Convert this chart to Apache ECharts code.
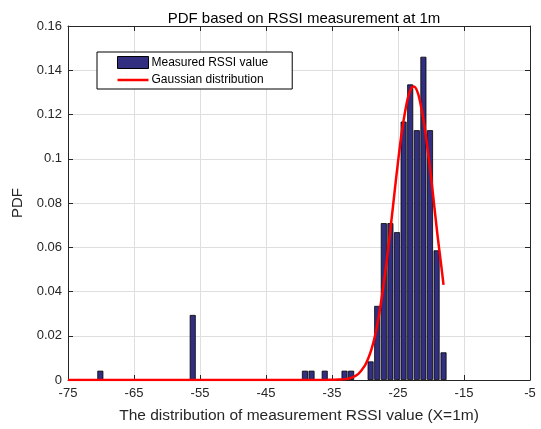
<!DOCTYPE html>
<html>
<head>
<meta charset="utf-8">
<script src="https://cdn.jsdelivr.net/npm/echarts@6/dist/echarts.min.js"></script>
<style>html,body{margin:0;padding:0;background:#fff;}#c{width:541px;height:429px;}</style>
</head>
<body>
<div id="c"></div>
<script>
// Histogram bins (RSSI, dBm) and normalized PDF heights
var binCenters = [-70.1, -56.1, -39.1, -38.1, -36.1, -33.1, -32.1,
  -29.15, -28.15, -27.15, -26.15, -25.15, -24.15, -23.15, -22.15, -21.15, -20.15, -19.15, -18.1];
var pdfValues = [0.0042, 0.0294, 0.0042, 0.0042, 0.0042, 0.0042, 0.0042,
  0.0084, 0.0335, 0.0709, 0.0709, 0.0668, 0.1168, 0.1336, 0.1129, 0.1461, 0.1129, 0.0586, 0.0125];
// Gaussian fit curve
var gaussX = [-75, -60, -45, -38, -36, -35, -34, -33, -32, -31, -30, -29.5, -29, -28.5, -28, -27.5, -27, -26.5, -26, -25.5, -25, -24.5, -24, -23.5, -23, -22.6, -22, -21.5, -21, -20.5, -20, -19.5, -19, -18.5, -18.1];
var gaussY = [0, 0, 0, 0, 0, 0.0001, 0.0002, 0.0004, 0.0011, 0.0028, 0.0066, 0.0098, 0.0141, 0.0198, 0.0272, 0.0365, 0.0470, 0.0590, 0.0720, 0.0855, 0.0985, 0.1105, 0.1200, 0.1275, 0.1318, 0.1326, 0.1298, 0.1235, 0.1150, 0.1040, 0.0920, 0.0785, 0.0650, 0.0530, 0.0430];
var xTicks = [-75, -65, -55, -45, -35, -25, -15, -5];
var titleText = 'PDF based on RSSI measurement at 1m';
var xName = 'The distribution of measurement RSSI value (X=1m)';
var yName = 'PDF';
var barName = 'Measured RSSI value';
var lineName = 'Gaussian distribution';

var barData = binCenters.map(function (x, i) { return [x, pdfValues[i]]; });
var lineData = gaussX.map(function (x, i) { return [x, gaussY[i]]; });

var axisColor = '#262626';
var font = 'Liberation Sans, Arial, Helvetica, sans-serif';

var chart = echarts.init(document.getElementById('c'), null, { renderer: 'canvas' });
chart.setOption({
  animation: false,
  backgroundColor: '#fff',
  textStyle: { fontFamily: font },
  title: {
    text: titleText,
    left: 299, top: 6, textAlign: 'center',
    textStyle: { fontSize: 15, fontWeight: 'normal', color: '#000', fontFamily: font }
  },
  legend: {
    orient: 'vertical',
    left: 97, top: 52,
    padding: [4, 24, 3, 20],
    itemGap: 5,
    itemWidth: 31, itemHeight: 12,
    borderColor: '#000', borderWidth: 1,
    backgroundColor: '#fff',
    textStyle: { fontSize: 12, color: '#000', fontFamily: font, padding: [0, 0, 0, -2] },
    data: [
      { name: barName, icon: 'rect', itemStyle: { color: '#332f80', borderColor: '#000', borderWidth: 1 } },
      { name: lineName, icon: 'path://M0,0H62V5H0Z', itemStyle: { color: '#ff0000', borderWidth: 0 } }
    ]
  },
  grid: { left: 68, right: 11, top: 26, bottom: 48, containLabel: false },
  xAxis: [{
    type: 'value', min: -75, max: -5,
    name: xName, nameLocation: 'middle', nameGap: 28,
    nameTextStyle: { fontSize: 15.5, color: axisColor, fontFamily: font },
    axisLine: { show: true, onZero: false, lineStyle: { color: axisColor, width: 1 } },
    axisTick: { show: true, inside: true, length: 5, customValues: xTicks, lineStyle: { color: axisColor } },
    axisLabel: { customValues: xTicks, fontSize: 13, color: axisColor, margin: 7, fontFamily: font },
    splitLine: { show: true, lineStyle: { color: '#dedede', width: 1 } }
  }, {
    type: 'value', min: -75, max: -5, position: 'top',
    axisLine: { show: true, onZero: false, lineStyle: { color: axisColor, width: 1 } },
    axisTick: { show: true, inside: true, length: 5, customValues: xTicks, lineStyle: { color: axisColor } },
    axisLabel: { show: false },
    splitLine: { show: false }
  }],
  yAxis: [{
    type: 'value', min: 0, max: 0.16, interval: 0.02,
    name: yName, nameLocation: 'middle', nameGap: 38, nameRotate: 90,
    nameTextStyle: { fontSize: 15, color: axisColor, fontFamily: font },
    axisLine: { show: true, onZero: false, lineStyle: { color: axisColor, width: 1 } },
    axisTick: { show: true, inside: true, length: 5, lineStyle: { color: axisColor } },
    axisLabel: { fontSize: 13, color: axisColor, margin: 6, fontFamily: font },
    splitLine: { show: true, lineStyle: { color: '#dedede', width: 1 } }
  }, {
    type: 'value', min: 0, max: 0.16, interval: 0.02, position: 'right',
    axisLine: { show: true, onZero: false, lineStyle: { color: axisColor, width: 1 } },
    axisTick: { show: true, inside: true, length: 5, lineStyle: { color: axisColor } },
    axisLabel: { show: false },
    splitLine: { show: false }
  }],
  series: [{
    name: barName,
    type: 'bar',
    xAxisIndex: 0, yAxisIndex: 0,
    barWidth: 6,
    data: barData,
    itemStyle: { color: '#332f80', borderColor: '#000', borderWidth: 0.8 }
  }, {
    name: lineName,
    type: 'line',
    xAxisIndex: 0, yAxisIndex: 0,
    data: lineData,
    symbol: 'none',
    smooth: 0.3,
    lineStyle: { color: '#ff0000', width: 2.5 },
    itemStyle: { color: '#ff0000' },
    z: 5
  }]
});
</script>
</body>
</html>
